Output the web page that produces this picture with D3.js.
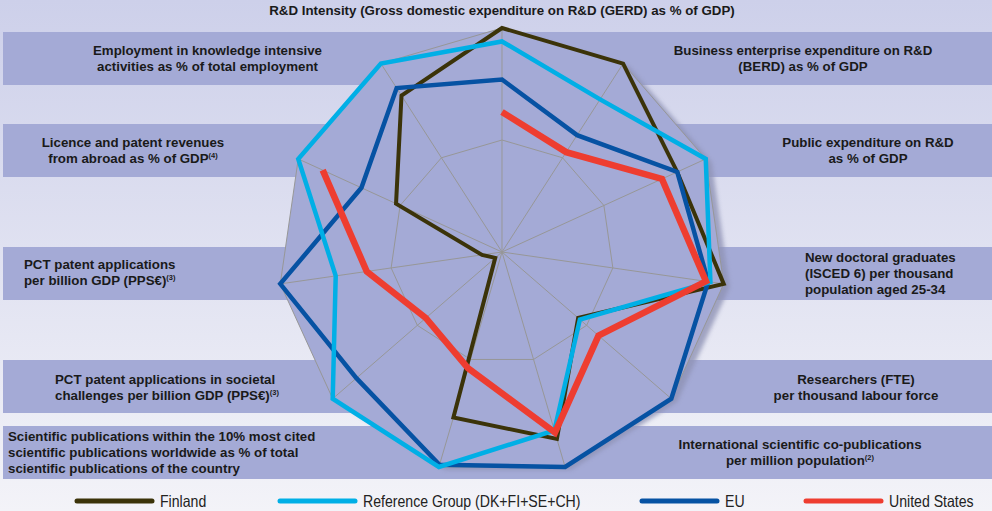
<!DOCTYPE html>
<html>
<head>
<meta charset="utf-8">
<script src="https://cdn.jsdelivr.net/npm/d3@7"></script>
<style>
html, body { margin: 0; padding: 0; background: #e4e6f3; }
svg { display: block; }
.lbl { font-family: "Liberation Sans", Arial, Helvetica, sans-serif; font-weight: bold; font-size: 13.3px; fill: #1a1a1a; }
.leg { font-family: "Liberation Sans", Arial, sans-serif; font-size: 16.5px; fill: #222; }
</style>
</head>
<body>
<div id="chart"></div>
<script>
// axis names, one entry per line, "^" marks a superscript note
const axes = [
  ["R&D Intensity (Gross domestic expenditure on R&D (GERD) as % of GDP)"],
  ["Business enterprise expenditure on R&D", "(BERD) as % of GDP"],
  ["Public expenditure on R&D", "as % of GDP"],
  ["New doctoral graduates", "(ISCED 6) per thousand", "population aged 25-34"],
  ["Researchers (FTE)", "per thousand labour force"],
  ["International scientific co-publications", "per million population^(2)"],
  ["Scientific publications within the 10% most cited", "scientific publications worldwide as % of total", "scientific publications of the country"],
  ["PCT patent applications in societal", "challenges per billion GDP (PPS€)^(3)"],
  ["PCT patent applications", "per billion GDP (PPS€)^(3)"],
  ["Licence and patent revenues", "from abroad as % of GDP^(4)"],
  ["Employment in knowledge intensive", "activities as % of total employment"]
];

const seriesNames = ["Finland", "Reference Group (DK+FI+SE+CH)", "EU", "United States"];

// values as % of the outer ring
const finland  = [100, 100, 86, 100, 45, 87, 77, 4, 9, 52, 83];
const refGroup = [94, 81, 100, 94, 46, 83, 100, 100, 75, 100, 100];
const eu       = [77, 62, 86, 93, 100, 100, 99, 86, 100, 69, 87];
const us       = [62.5, 53, 78.5, 92, 57, 84, 54, 45, 61, 88, null];

const rings = [50, 100];

// layout
var width = 992, height = 511;
var cx = 502, cy = 252, outer = 224;
var colors = ["#3b3309", "#00afe6", "#0652a3", "#ee3d30"];
var widths = [4, 4.5, 4.5, 6.5];
var isClosed = [true, true, true, false];   // (not "closed": that is window.closed)
var drawOrder = [0, 2, 1, 3];

// first-line baseline and anchor of each axis label
var labelPos = [
  {x: 502, y: 15, a: "middle"},
  {x: 803, y: 54.5, a: "middle"},
  {x: 868, y: 146.5, a: "middle"},
  {x: 805, y: 261.5, a: "start"},
  {x: 856, y: 383.5, a: "middle"},
  {x: 800, y: 449, a: "middle"},
  {x: 8, y: 441, a: "start"},
  {x: 55, y: 383.5, a: "start"},
  {x: 24, y: 269, a: "start"},
  {x: 133, y: 146.5, a: "middle"},
  {x: 207.5, y: 54.5, a: "middle"}
];
var bands = [[32, 85], [124, 177], [247, 300], [360, 413], [426, 479]];
var legendX = [77, 280, 642, 806];

var svg = d3.select("#chart").append("svg")
  .attr("width", width)
  .attr("height", height);

var defs = svg.append("defs");
var grad = defs.append("linearGradient").attr("id", "bg")
  .attr("x1", 0).attr("y1", 0).attr("x2", 0).attr("y2", 1);
grad.append("stop").attr("offset", "0%").attr("stop-color", "#cdd0ea");
grad.append("stop").attr("offset", "100%").attr("stop-color", "#f3f3f8");
defs.append("filter").attr("id", "soft")
  .attr("x", "-10%").attr("y", "-10%").attr("width", "120%").attr("height", "120%")
  .append("feGaussianBlur").attr("stdDeviation", 2);

svg.append("rect")
  .attr("width", width)
  .attr("height", height)
  .attr("fill", "url(#bg)");

svg.append("g").selectAll("rect")
  .data(bands)
  .enter().append("rect")
    .attr("x", 3)
    .attr("y", d => d[0])
    .attr("width", width - 3)
    .attr("height", d => d[1] - d[0])
    .attr("fill", "#a4aad6");

// radar scales
var r = d3.scaleLinear().domain([0, 100]).range([0, outer]);
var angle = d3.scaleLinear().domain([0, axes.length]).range([0, 2 * Math.PI]);

var g = svg.append("g").attr("transform", `translate(${cx},${cy})`);

function radial(curve) {
  return d3.lineRadial()
    .defined(d => d != null)
    .angle((d, i) => angle(i))
    .radius(d => r(d))
    .curve(curve);
}
var ringLine = radial(d3.curveLinearClosed);
var full = axes.map(() => 100);

// shadow + outer plate
g.append("path")
  .datum(full)
  .attr("d", ringLine)
  .attr("transform", "translate(6,3)")
  .attr("fill", "#8f93b5")
  .attr("opacity", 0.8)
  .attr("filter", "url(#soft)");

g.append("path")
  .datum(full)
  .attr("d", ringLine)
  .attr("fill", "#a4aad6");

// rings
g.append("g").selectAll("path")
  .data(rings)
  .enter().append("path")
    .attr("d", v => ringLine(axes.map(() => v)))
    .attr("fill", "none")
    .attr("stroke", "#979797")
    .attr("stroke-width", 1);

// spokes
g.append("g").selectAll("line")
  .data(axes)
  .enter().append("line")
    .attr("x1", 0).attr("y1", 0)
    .attr("x2", (d, i) => r(100) * Math.sin(angle(i)))
    .attr("y2", (d, i) => -r(100) * Math.cos(angle(i)))
    .attr("stroke", "#979797")
    .attr("stroke-width", 1);

// series
var allSeries = [finland, refGroup, eu, us];
drawOrder.forEach(function(k) {
  var line = radial(isClosed[k] ? d3.curveLinearClosed : d3.curveLinear);
  g.append("path")
    .datum(allSeries[k])
    .attr("d", line)
    .attr("fill", "none")
    .attr("stroke", colors[k])
    .attr("stroke-width", widths[k])
    .attr("stroke-linejoin", "miter");
});

// axis labels
var labels = svg.append("g").attr("class", "lbl");
axes.forEach(function(lines, i) {
  var p = labelPos[i];
  var t = labels.append("text")
    .attr("text-anchor", p.a);
  lines.forEach(function(ln, j) {
    var parts = ln.split("^");
    t.append("tspan")
      .attr("x", p.x)
      .attr("y", p.y + j * 16)
      .text(parts[0]);
    if (parts[1]) {
      t.append("tspan")
        .attr("dy", -5)
        .attr("font-size", "7.5px")
        .text(parts[1]);
    }
  });
});

// legend (narrow type, squeezed horizontally)
var leg = svg.append("g").attr("class", "legend");
seriesNames.forEach(function(name, k) {
  leg.append("line")
    .attr("x1", legendX[k]).attr("x2", legendX[k] + 75)
    .attr("y1", 501).attr("y2", 501)
    .attr("stroke", colors[k])
    .attr("stroke-width", 5)
    .attr("stroke-linecap", "round");
  leg.append("text")
    .attr("class", "leg")
    .attr("transform", `translate(${legendX[k] + 83},507) scale(0.855,1)`)
    .text(name);
});
</script>
</body>
</html>
